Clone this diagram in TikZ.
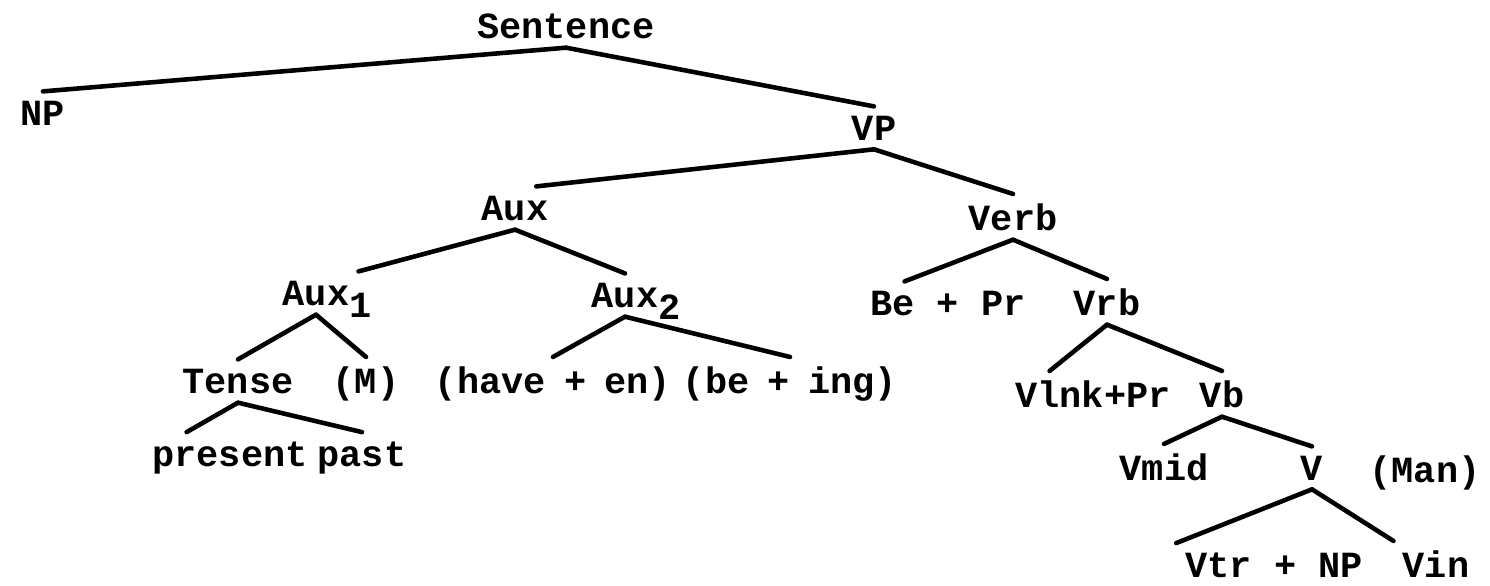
\documentclass[tikz,border=0pt]{standalone}
\usepackage{fontspec}
\setmainfont{Liberation Mono}
\usetikzlibrary{calc}
\newcommand{\lowsub}[1]{\rlap{\smash{\raisebox{-.65ex}{#1}}}}
\tikzset{
  every picture/.style={line width=1.3pt},
  word/.style={font=\bfseries\fontsize{10.5}{12}\selectfont, inner sep=2pt, anchor=base},
  branch/.style={draw=black, line cap=round},
}
\begin{document}
\begin{tikzpicture}
  \useasboundingbox (0,0) rectangle (14.9,-5.85);
  \node[word] (sent) at (5.66,-0.38) {Sentence};
  \node[word] (np) at (0.43,-1.25) {NP};
  \node[word] (vp) at (8.74,-1.40) {VP};
  \node[word] (aux) at (5.15,-2.20) {Aux};
  \node[word] (verb) at (10.13,-2.30) {Verb};
  \node[word] (auxa) at (3.16,-3.05) {Aux\lowsub{1}};
  \node[word] (auxb) at (6.25,-3.07) {Aux\lowsub{2}};
  \node[word] (tense) at (2.38,-3.93) {Tense};
  \node[word] (modal) at (3.66,-3.93) {(M)};
  \node[word] (have) at (5.53,-3.93) {(have\enspace+\enspace en)};
  \node[word] (being) at (7.90,-3.93) {(be\enspace+\enspace ing)};
  \node[word] (bepr) at (9.48,-3.15) {Be + Pr};
  \node[word] (vrb) at (11.07,-3.15) {Vrb};
  \node[word] (vlnk) at (10.93,-4.07) {Vlnk+Pr};
  \node[word] (vb) at (12.22,-4.07) {Vb};
  \node[word] (vmid) at (11.64,-4.80) {Vmid};
  \node[word] (v) at (13.12,-4.80) {V};
  \node[word] (man) at (14.25,-4.82) {(Man)};
  \node[word] (vtrnp) at (12.74,-5.77) {Vtr + NP};
  \node[word] (vin) at (14.36,-5.77) {Vin};
  \node[word] (present) at (2.30,-4.66) {present};
  \node[word] (past) at (3.62,-4.66) {past};
  \draw[branch] (sent.south) -- (np.north); \draw[branch] (sent.south) -- (vp.north);
  \draw[branch] (vp.south) -- ($(aux.north)!.5!(aux.north east)$); \draw[branch] (vp.south) -- (verb.north);
  \draw[branch] (aux.south) -- (auxa.north east); \draw[branch] (aux.south) -- (auxb.north);
  \draw[branch] (auxa.south) -- (tense.north); \draw[branch] (auxa.south) -- (modal.north);
  \draw[branch] (auxb.south) -- (have.north); \draw[branch] (auxb.south) -- (being.north);
  \draw[branch] (tense.south) -- ($(present.north west)!.5!(present.north)$); \draw[branch] (tense.south) -- (past.north);
  \draw[branch] (verb.south) -- ($(bepr.north west)!.5!(bepr.north)$); \draw[branch] (verb.south) -- (vrb.north);
  \draw[branch] (vrb.south) -- ($(vlnk.north west)!.5!(vlnk.north)$); \draw[branch] (vrb.south) -- (vb.north);
  \draw[branch] (vb.south) -- (vmid.north); \draw[branch] (vb.south) -- (v.north);
  \draw[branch] (v.south) -- (vtrnp.north west); \draw[branch] (v.south) -- (vin.north west);
\end{tikzpicture}
\end{document}
